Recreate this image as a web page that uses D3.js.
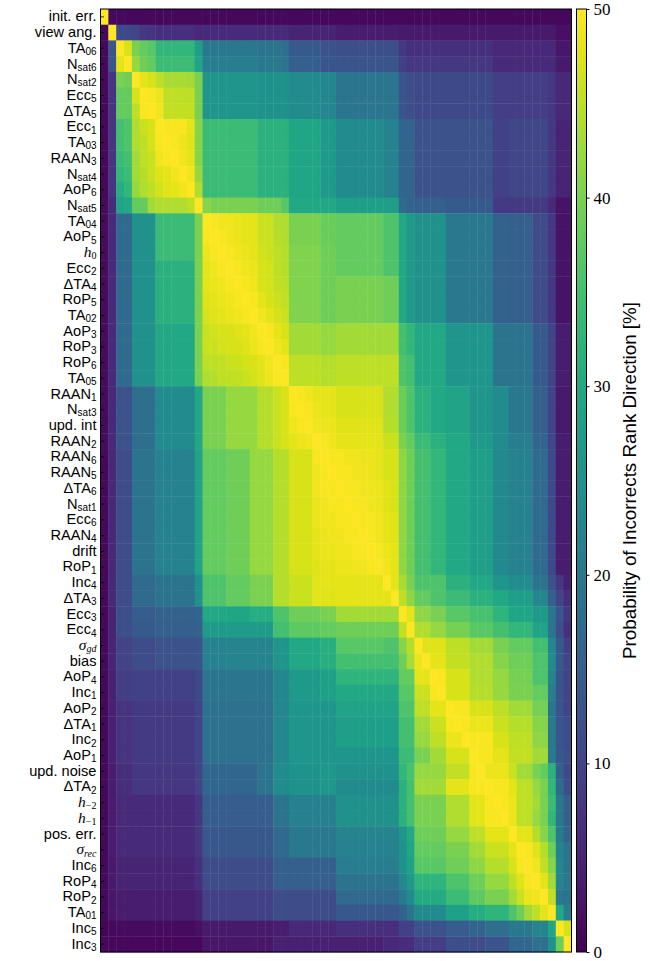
<!DOCTYPE html>
<html>
<head>
<meta charset="utf-8">
<title>Rank direction heatmap</title>
<script src="https://cdn.jsdelivr.net/npm/d3@7"></script>
<style>
body { margin: 0; background: #fff; }
</style>
</head>
<body>
<div class="chart-area"></div>
<script>
// row / column labels, top to bottom (same order on both axes)
var labelBase = ["init. err.","view ang.","TA","N","N","Ecc","ΔTA","Ecc","TA","RAAN",
  "N","AoP","N","TA","AoP","h","Ecc","ΔTA","RoP","TA",
  "AoP","RoP","RoP","TA","RAAN","N","upd. int","RAAN","RAAN","RAAN",
  "ΔTA","N","Ecc","RAAN","drift","RoP","Inc","ΔTA","Ecc","Ecc",
  "σ","bias","AoP","Inc","AoP","ΔTA","Inc","AoP","upd. noise","ΔTA",
  "h","h","pos. err.","σ","Inc","RoP","RoP","TA","Inc","Inc"];
var labelSub = ["","","06","sat6","sat2","5","5","1","03","3",
  "sat4","6","sat5","04","5","0","2","4","5","02",
  "3","3","6","05","1","sat3","","2","6","5",
  "6","sat1","6","4","","1","4","3","3","4",
  "gd","","4","1","2","1","2","1","","2",
  "−2","−1","","rec","6","4","2","01","5","3"];
var mathLabels = [15, 40, 50, 51, 53];
var cbTicks = [0, 10, 20, 30, 40, 50];

// probability of incorrect rank direction [%], one row per label
var values = [
[50,1,1,1,1,1,1,1,1,1, 1,1,1,1,1,1,1,1,1,1, 1,1,1,1,1,1,1,1,1,1, 1,1,1,1,1,1,1,1,1,1, 1,1,1,1,1,1,1,1,1,1, 1,1,1,1,1,1,1,1,1,1],
[1,50,11,11,10,8,7.5,7,7,7, 7,7,5.5,6,6,6,6,6,6,6, 6,6,6,6,5,5,5,5,5,5, 4,4,4,4,4,4,4,4,3.5,3.5, 3.5,3.5,3.5,3.5,3.5,3.5,3.5,3.5,3.5,3.5, 3.5,3.5,3.5,3.5,3.5,3.5,3.5,3.5,2,2],
[1,13,50,47,40,38,37,33,33,33, 33,33,28,20,20,20,20,20,20,20, 19,19,19,18,14,14,14,14,12.5,12.5, 12,12,12,12,12,12,12,12,8,7, 7,7,7,7,7,7,7,7,7,7, 5.5,5.5,5.5,5.5,5.5,5.5,5.5,5.5,3,3],
[1,13,48,50,42,39,38,34,34,34, 34,34,29,21,21,21,21,21,21,21, 20,20,20,19,15,15,15,15,13,13, 13,13,13,13,13,13,13,13,9,8, 8,8,8,8,8,8,8,8,8,8, 6,6,6,6,6,6,6,6,3.5,3.5],
[1,7.5,40,39,50,48,47,45,43.5,43.5, 43.5,43,40,26,26,26,26,26,26,26, 25.5,25.5,25.5,25.5,24,24,24,24,23,23, 19.5,19.5,19.5,19.5,19.5,19.5,19.5,19.5,13,12, 11,11,11,11,11,11,11,11,11,11, 9,9,9,9,9,9,9,8,5.5,5.5],
[1,7.5,38,38,47,50,49.5,48.5,45,45, 45,45,40,26,26,26,26,26,26,26, 25.5,25.5,25.5,25.5,24,24,24,24,23,23, 19.5,19.5,19.5,19.5,19.5,19.5,19.5,19.5,13,12, 11,11,11,11,11,11,11,11,11,11, 9,9,9,9,9,9,9,8,5.5,5.5],
[1,7.5,38,38,45,49.5,50,49,45.5,45.5, 45.5,45.5,40,26,26,26,26,26,26,26, 25.5,25.5,25.5,25.5,24,24,24,24,23,23, 19.5,19.5,19.5,19.5,19.5,19.5,19.5,19.5,13,12, 11,11,11,11,11,11,11,11,11,11, 9,9,9,9,9,9,9,8,5.5,5.5],
[1,7.5,35,36,44,46,47,50,49.5,49.5, 49.5,48,41,34,34,34,34,34,34,34, 32,32,32,32,29.5,29.5,29.5,29.5,27,27, 24,24,24,24,24,24,22,22,16,16, 12.5,12.5,12.5,12.5,12.5,12.5,12.5,12.5,12.5,12.5, 9.5,9.5,10.5,10.5,10.5,10.5,10.5,8,5,5],
[1,7.5,35,36,44,45,47,49.5,50,49.5, 48.5,47.5,41,34,34,34,34,34,34,34, 32,32,32,32,29.5,29.5,29.5,29.5,27,27, 24,24,24,24,24,24,22,22,16,16, 12.5,12.5,12.5,12.5,12.5,12.5,12.5,12.5,12.5,12.5, 9.5,9.5,10.5,10.5,10.5,10.5,10.5,8,5,5],
[1,7.5,34,35,43,45,46,49,49.5,50, 49,48,41,34,34,34,34,34,34,34, 32,32,32,32,29.5,29.5,29.5,29.5,27,27, 24,24,24,24,24,24,22,22,16,16, 12.5,12.5,12.5,12.5,12.5,12.5,12.5,12.5,12.5,12.5, 9.5,9.5,10.5,10.5,10.5,10.5,10.5,8,5,5],
[1,7.5,33,34,43,44.5,46,47.5,48,49, 50,49,42,34,34,34,34,34,34,34, 32,32,32,32,29.5,29.5,29.5,29.5,27,27, 24,24,24,24,24,24,22,22,16,16, 12.5,12.5,12.5,12.5,12.5,12.5,12.5,12.5,12.5,12.5, 9.5,9.5,10.5,10.5,10.5,10.5,10.5,8,5,5],
[1,7.5,31,33,42,44,45,46.5,47.5,48, 49,50,44,34,34,34,34,34,34,34, 32,32,32,32,29.5,29.5,29.5,29.5,27,27, 24,24,24,24,24,24,22,22,16,16, 12.5,12.5,12.5,12.5,12.5,12.5,12.5,12.5,12.5,12.5, 9.5,9.5,10.5,10.5,10.5,10.5,10.5,8,5,5],
[1.5,6,29,30,38,38,43,44,44,44, 44,45,50,41,40,40,40,40,40,40, 39,39,39,37,30,30,30,30,30,30, 28,28,28,28,28,28,28,28,17,16, 15,15,15,15,14,14,14,14,14,14, 8.5,8.5,8.5,8.5,8.5,8.5,8.5,6,2.5,2.5],
[1.5,6,17,17,25,25,25,34,34,34, 34,34,40,50,49.5,49,49,48.5,48,48, 46,46,44,44,40,40,40,40,38.5,38.5, 38,38,38,38,38,38,36,36,30,27, 25,25,25,25,20,20,20,20,20,20, 15.5,15.5,15,15,15,11.5,11.5,8,2.5,2.5],
[1.5,6,17,17,25,25,25,34,34,34, 34,34,40,49.5,50,49.5,49,48.5,48,48, 46,46,44.5,44,40,40,40,40,38.5,38.5, 38,38,38,38,38,38,36,36,30,27, 25,25,25,25,20,20,20,20,20,20, 15.5,15.5,15,15,15,11.5,11.5,8,2.5,2.5],
[1.5,6,17,17,25,25,25,34,34,34, 34,34,40,48.5,49.5,50,49.5,49,48.5,48, 46.5,46,45,44.5,40.5,40.5,40.5,40.5,39,39, 38,38,38,38,38,38,36,36,30,27, 25,25,25,25,20,20,20,20,20,20, 15.5,15.5,15,15,15,11.5,11.5,8,2.5,2.5],
[1.5,6,17,17,25,25,25,32,32,32, 32,32,40,48,49,49.5,50,49.5,49,48.5, 47,46.5,45,44.5,40.5,40.5,40.5,40.5,39,39, 38,38,38,38,38,38,36,36,30,27, 25,25,25,25,20,20,20,20,20,20, 15.5,15.5,15,15,15,11.5,11.5,8,2.5,2.5],
[1.5,6,17,17,25,25,25,32,32,32, 32,32,40,48,48.5,49,49.5,50,49.5,49, 47,46.5,45.5,45,40.5,40.5,40.5,40.5,39,39, 40,40,40,40,40,40,39,39,30,27, 25,25,25,25,20,20,20,20,20,20, 15.5,15.5,15,15,15,11.5,11.5,8,2.5,2.5],
[1.5,6,17,17,25,25,25,32,32,32, 32,32,40,47.5,48,48.5,49,49.5,50,49.5, 48,47,46,45.5,40.5,40.5,40.5,40.5,39,39, 40,40,40,40,40,40,39,39,30,27, 25,25,25,25,20,20,20,20,20,20, 15.5,15.5,15,15,15,11.5,11.5,8,2.5,2.5],
[1.5,6,17,17,25,25,25,32,32,32, 32,32,40,47,47.5,48,48.5,49,49.5,50, 49,48,47,46,40.5,40.5,40.5,40.5,39,39, 40,40,40,40,40,40,39,39,30,27, 25,25,25,25,20,20,20,20,20,20, 15.5,15.5,15,15,15,11.5,11.5,8,2.5,2.5],
[1.5,6,17,17,25,25,25,30,30,30, 30,30,40,46,46.5,47,47,47.5,48,49, 50,49.5,48,47,43,43,43,43,42,42, 43,43,43,43,43,43,43,43,35,33, 30,30,30,30,26,26,26,26,26,26, 19,19,19,19,19,14,14,10,4,4],
[1.5,6,17,17,25,25,25,30,30,30, 30,30,40,46,46,46.5,47,47,47.5,48.5, 49.5,50,49,48,43,43,43,43,42,42, 43,43,43,43,43,43,43,43,35,33, 30,30,30,30,26,26,26,26,26,26, 19,19,19,19,19,14,14,10,4,4],
[1.5,6,17,17,25,25,25,30,30,30, 30,30,40,45,45,45.5,46,46,46.5,47, 48,49,50,49.5,45,45,45,45,44.5,44.5, 45,45,45,45,45,45,45,45,36,35, 30,30,30,30,26,26,26,26,26,26, 19,19,19,19,19,14,14,10,4,4],
[1.5,6,17,17,25,25,25,30,30,30, 30,30,40,44,44.5,45,45,45.5,46,46.5, 47.5,48.5,49.5,50,45,45,45,45,44.5,44.5, 45,45,45,45,45,45,45,45,36,35, 30,30,30,30,26,26,26,26,26,26, 19,19,19,19,19,14,14,10,4,4],
[1.5,5.5,12.5,12.5,18,18,18,24,24,24, 24,24,30,40,40,40,42,42,42,42, 44.5,44.5,46,47,50,49.5,49,48,48,48, 47,47,47,47,47,47,44,44,38.5,36, 32,32,30,30,29,29,29,26,26,26, 24,24,20,20,20,15,15,10,3.5,3.5],
[1.5,5.5,12.5,12.5,18,18,18,24,24,24, 24,24,30,40,40,40,42,42,42,42, 44.5,44.5,46,47,49.5,50,49.5,48.5,48,48, 47,47,47,47,47,47,44,44,38.5,36, 32,32,30,30,29,29,29,26,26,26, 24,24,20,20,20,15,15,10,3.5,3.5],
[1.5,5.5,12.5,12.5,18,18,18,24,24,24, 24,24,30,40,40,40,42,42,42,42, 44.5,44.5,46,47,49,49.5,50,49,48.5,48.5, 47.5,47.5,47.5,47.5,47.5,47.5,44.5,44.5,38.5,36, 32,32,30,30,29,29,29,26,26,26, 24,24,20,20,20,15,15,10,3.5,3.5],
[1.5,5.5,12.5,12.5,18,18,18,24,24,24, 24,24,30,40,40,40,42,42,42,42, 44.5,44.5,46,47,48,48.5,49,50,49.5,49, 48,48,48,48,48,48,46,46,40,38, 34,34,32,32,30,30,30,27,27,27, 24,24,21,21,21,16,16,10.5,4,4],
[1,5.5,11.5,11.5,19,19,19,22,22,22, 22,22,29,38,38,38,39,39,39,42, 42,42,44.5,44.5,47,47,47,49.5,50,49.5, 49.5,49,49,48.5,48.5,48,47,47,41.5,39, 35,35,33,33,30,30,30,28,28,28, 23.5,23.5,22,22,22,17,17,11,4,4],
[1,5.5,11.5,11.5,19,19,19,22,22,22, 22,22,29,38,38,38,39,39,39,42, 42,42,44.5,44.5,47,47,47,49,49.5,50, 49.5,49.5,49,49,48.5,48,47,47,41.5,39, 35,35,33,33,30,30,30,28,28,28, 23.5,23.5,22,22,22,17,17,11,4,4],
[1,5.5,11.5,11.5,19,19,19,22,22,22, 22,22,29,38,38,38,39,39,39,42, 42,42,44.5,44.5,47,47,47,49,49.5,49.5, 50,49.5,49.5,49,49,48.5,47.5,47,41.5,39, 35,35,33,33,30,30,30,28,28,28, 23.5,23.5,22,22,22,17,17,11,4,4],
[1,5.5,11.5,11.5,19,19,19,22,22,22, 22,22,29,38,38,38,39,39,39,42, 42,42,44.5,44.5,47,47,47,48.5,49,49.5, 49.5,50,49.5,49.5,49,48.5,47.5,47,41.5,39, 35,35,33,33,30,30,30,28,28,28, 23.5,23.5,22,22,22,17,17,11,4,4],
[1,5.5,11.5,11.5,19,19,19,22,22,22, 22,22,29,38,38,38,39,39,39,42, 42,42,44.5,44.5,47,47,47,48.5,49,49, 49.5,49.5,50,49.5,49.5,49,48,47.5,41.5,39, 35,35,33,33,30,30,30,28,28,28, 23.5,23.5,22,22,22,17,17,11,4,4],
[1,5.5,11.5,11.5,19,19,19,22,22,22, 22,22,29,38,38,38,39,39,39,42, 42,42,44.5,44.5,47,47,47,48,48.5,49, 49,49.5,49.5,50,49.5,49,48,47.5,41.5,39, 35,35,33,33,30,30,30,28,28,28, 23.5,23.5,22,22,22,17,17,11,4,4],
[1,5.5,11.5,11.5,19,19,19,22,22,22, 22,22,29,38,38,38,39,39,39,42, 42,42,44.5,44.5,47,47,47,48,48.5,48.5, 49,49,49.5,49.5,50,49.5,48.5,48,41.5,39, 35,35,33,33,30,30,30,28,28,28, 23.5,23.5,22,22,22,17,17,11,4,4],
[1,5.5,11.5,11.5,19,19,19,22,22,22, 22,22,29,38,38,38,39,39,39,42, 42,42,44.5,44.5,47,47,47,47.5,48,48, 48.5,48.5,49,49,49.5,50,49,48,41.5,39, 35,35,33,33,30,30,30,28,28,28, 23.5,23.5,22,22,22,17,17,11,4,4],
[1,5.5,11.5,11.5,17,17,17,19,19,19, 19,19,25,36,36,36,38,38,38,40, 40,40,44.5,44.5,46,46,46,48,48,48, 48,48,48,48,48,48,50,48,43.5,40, 36,36,36,36,32,32,32,30,30,30, 26,26,24.5,24.5,24.5,19,19,12.5,8,4.5],
[1,5.5,11.5,11.5,17,17,17,19,19,19, 19,19,25,36,36,36,38,38,38,40, 40,40,44.5,44.5,46,46,46,48,47.5,47.5, 48,48,48,48,48,48,48,50,45,41.5, 38,38,36,36,34,34,34,32,32,32, 30,30,28,28,28,23,23,15,10,6.5],
[1,5,12,12,14.5,14.5,14.5,15.5,15.5,15.5, 15.5,15.5,16,30,30,30,29.5,29.5,29.5,31, 31,31,36,36,39,39,39,39,40,40, 43,43,43,43,43,43,43,43,50,48, 41.5,41.5,40,40,37,37,37,35.5,35.5,35.5, 32.5,32.5,29.5,29.5,29.5,27,27,19.5,13,8],
[1,5,12,12,14,14,14,15,15,15, 15,15,15.5,27.5,27.5,27.5,27.5,27.5,27.5,27.5, 27.5,27.5,35,35,37.5,37.5,37.5,37.5,38,38, 39,39,39,39,39,39,39,39,45.5,50, 44,44,42,42,39.5,39.5,39.5,37,37,37, 35,35,33,33,33,29,29,19.5,12,7],
[1,5,10,10,11.5,11.5,11.5,12.5,12.5,12.5, 12.5,12.5,13,22,22,22,22.5,22.5,22.5,22.5, 22.5,22.5,26,26,30,30,30,30,31.5,31.5, 37,37,37,37,37,37,36,36,41,44.5, 50,47.5,47.5,47.5,45,45,45,43,43,43, 40,40,38,38,38,35,35,23,14,9],
[1,5,10,10,11.5,11.5,11.5,12.5,12.5,12.5, 12.5,12.5,13,22,22,22,22.5,22.5,22.5,22.5, 22.5,22.5,26,26,30,30,30,30,31.5,31.5, 35,35,35,35,35,35,35,35,39,43.5, 48.5,50,48,48,45.5,45.5,45.5,44,44,44, 41,41,39,39,39,36,36,24,14,10],
[1,4.5,9,9,9.5,9.5,9.5,9.5,9.5,9.5, 9.5,9.5,11,19.5,19.5,19.5,19.5,19.5,19.5,19.5, 19.5,19.5,23,23,27,27,27,27,28.5,28.5, 32.5,32.5,32.5,32.5,32.5,32.5,32.5,32.5,38,38, 48,48,50,49.5,47,47,47,44,44,44, 42,42,39.5,39.5,39.5,36,36,22.5,13,10],
[1,4.5,9,9,9.5,9.5,9.5,9.5,9.5,9.5, 9.5,9.5,11,19.5,19.5,19.5,19.5,19.5,19.5,19.5, 19.5,19.5,23,23,27,27,27,27,28.5,28.5, 30,30,30,30,30,30,30,30,37,37, 46,46,49.5,50,47,47,47,44.5,44.5,44.5, 42,42,40,40,40,38,38,21,12.5,10],
[1,4.5,7.5,7.5,8.5,8.5,8.5,8.5,8.5,8.5, 8.5,8.5,10,18.5,18.5,18.5,18.5,18.5,18.5,18.5, 18.5,18.5,23,23,26,26,26,26,26,26, 29,29,29,29,29,29,29,29,36,36, 45,45,48,48,50,49.5,49.5,47,47,47, 45,45,43,43,43,39.5,39.5,19.5,13,10],
[1,4.5,7.5,7.5,8.5,8.5,8.5,8.5,8.5,8.5, 8.5,8.5,10,18.5,18.5,18.5,18.5,18.5,18.5,18.5, 18.5,18.5,23,23,26,26,26,26,26,26, 28,28,28,28,28,28,28,28,35,35, 43,43,46,46,49.5,50,49.5,48.5,48.5,48.5, 46,46,44.5,44.5,44.5,41,41,20.5,13,11.5],
[1,4.5,7.5,7.5,8.5,8.5,8.5,8.5,8.5,8.5, 8.5,8.5,10,18.5,18.5,18.5,18.5,18.5,18.5,18.5, 18.5,18.5,23,23,26,26,26,26,26,26, 28,28,28,28,28,28,28,28,35,35, 42,42,45,45,48.5,48.5,50,49.5,49.5,49.5, 47,47,45,45,45,41.5,41.5,20,13,11.5],
[1,4.5,7.5,7.5,8.5,8.5,8.5,8.5,8.5,8.5, 8.5,8.5,10,18.5,18.5,18.5,18.5,18.5,18.5,18.5, 18.5,18.5,23,23,26,26,26,26,26,26, 26,26,26,26,26,26,26,26,34,34, 40,40,43,43,47,47,47,50,49.5,49.5, 48,48,45.5,45.5,45.5,43,43,20.5,13.5,12],
[1,4,6.5,6.5,8,8,8,8,8,8, 8,8,10,16.5,16.5,16.5,16.5,16.5,16.5,16.5, 19,19,24,24,25.5,25.5,25.5,25.5,26.5,26.5, 25.5,25.5,25.5,25.5,25.5,25.5,25.5,25.5,33,35.5, 42,42,42,42,45.5,45.5,45.5,49.5,50,48.5, 48.5,48.5,46,43,43,40,38,32,15,11],
[1,4,6.5,6.5,8,8,8,8,8,8, 8,8,10,16.5,16.5,16.5,16.5,16.5,16.5,16.5, 19,19,24,24,25.5,25.5,25.5,25.5,26.5,26.5, 24,24,24,24,24,24,24,24,32,35, 43,43,43,43,48,48,48,49.5,49.5,50, 49.5,49.5,48,45,45,42,40,33,17,12],
[1,4,6,6,6,6,6,6,6,6, 6,6,8,14.5,14.5,14.5,14.5,14.5,14.5,14.5, 14.5,14.5,19,19,21.5,21.5,21.5,21.5,21.5,21.5, 25,25,25,25,25,25,25,25,32,35, 40,40,40,40,44,44,44,48,48,49.5, 50,49.5,48.5,45,45,43,40,34,20,15],
[1,4,6,6,6,6,6,6,6,6, 6,6,8,14.5,14.5,14.5,14.5,14.5,14.5,14.5, 14.5,14.5,19,19,21.5,21.5,21.5,21.5,21.5,21.5, 25,25,25,25,25,25,25,25,32,35, 40,40,40,40,44,44,44,48,48,49.5, 49.5,50,48.5,45,45,42,40,33,20,15],
[1,4,6,6,6,6,6,6,6,6, 6,6,8,13.5,13.5,13.5,13.5,13.5,13.5,13.5, 13.5,13.5,17,17,20,20,20,20,20,20, 22.5,22.5,22.5,22.5,22.5,22.5,22.5,22.5,26,30, 39,39,39,39,42,42,42,45,45,48, 48,48,50,48,48,44.5,41,36,20.5,16],
[1,4,6,6,6,6,6,6,6,6, 6,6,8,13.5,13.5,13.5,13.5,13.5,13.5,13.5, 13.5,13.5,17,17,20,20,20,20,20,20, 22,22,22,22,22,22,22,22,25.5,29.5, 38,38,38,38,40,40,40,43,43,46, 46,46,48,50,49.5,47.5,44.5,39,22,19],
[1,3.5,5,5,5,5,5,5,5,5, 5,5,7,11.5,11.5,11.5,11.5,11.5,11.5,11.5, 11.5,11.5,15,15,15,15,15,15,15,15, 21,21,21,21,21,21,21,21,25.5,28.5, 37,37,37,37,39,39,39,41.5,41.5,44.5, 44.5,44.5,47,49.5,50,49,45.5,41,23,19.5],
[1,3.5,5,5,5,5,5,5,5,5, 5,5,7,11.5,11.5,11.5,11.5,11.5,11.5,11.5, 11.5,11.5,15,15,15,15,15,15,15,15, 19,19,19,19,19,19,19,19,23.5,27, 32.5,32.5,32.5,32.5,36,36,36,39,39,42, 42,42,45,47.5,49.5,50,48,43,22.5,20],
[1,3,4,4,4,4,4,4,4,4, 4,4,5,9.5,9.5,9.5,9.5,9.5,9.5,9.5, 9.5,9.5,11.5,11.5,11.5,11.5,11.5,11.5,11.5,11.5, 17,17,17,17,17,17,17,17,20.5,24, 30.5,30.5,30.5,30.5,34,34,34,37.5,37.5,40, 40,40,43,46,48.5,49,50,45.5,20,19],
[1,3,4,4,4,4,4,4,4,4, 4,4,5,9.5,9.5,9.5,9.5,9.5,9.5,9.5, 9.5,9.5,11.5,11.5,11.5,11.5,11.5,11.5,11.5,11.5, 13.5,13.5,13.5,13.5,13.5,13.5,13.5,13.5,15.5,19, 24,24,24,24,28.5,28.5,28.5,31,31,32.5, 32.5,32.5,36,39,43,45,48,50,30,21],
[0.5,1,1.5,1.5,1.5,1.5,1.5,1.5,1.5,1.5, 1.5,1.5,2,3.5,3.5,3.5,3.5,3.5,3.5,3.5, 3.5,3.5,4,4,5.5,5.5,5.5,5.5,5.5,5.5, 7,7,7,7,7,7,7,7,9.5,9.5, 12.5,12.5,12.5,12.5,14.5,14.5,14.5,16,16,18, 18,18,20,20,20,22.5,22.5,29.5,50,47],
[1,1,1,1,1,1,1,1,1,1, 1,1,1,3,3,3,3,3,3,3, 3,3,4.5,4.5,4.5,4.5,4.5,4.5,4.5,4.5, 4.5,4.5,4.5,4.5,4.5,4.5,5.5,5.5,6.5,6.5, 9,9,9,9,12,12,12,11.5,11.5,13, 13,13,16.5,16.5,16.5,18.5,18.5,25.5,39,50]
];

var margin = { left: 100.5, top: 9 },
    width = 471,
    height = 943;

var svg = d3.select(".chart-area")
    .append("svg")
    .attr("width", 650)
    .attr("height", 961);

var idx = d3.range(labelBase.length);

var xScale = d3.scaleBand()
    .domain(idx)
    .range([margin.left, margin.left + width]);
var yScale = d3.scaleBand()
    .domain(idx)
    .range([margin.top, margin.top + height]);
var color = d3.scaleSequential(d3.interpolateViridis)
    .domain([0, 50]);

// heatmap cells
var cells = [];
values.forEach(function(row, i) {
    row.forEach(function(v, j) {
        cells.push({ r: i, c: j, v: v });
    });
});

svg.append("g")
    .selectAll("rect")
    .data(cells)
    .enter()
    .append("rect")
    .attr("x", function(d) { return xScale(d.c); })
    .attr("y", function(d) { return yScale(d.r); })
    .attr("width", xScale.bandwidth() + 0.4)
    .attr("height", yScale.bandwidth() + 0.4)
    .attr("fill", function(d) { return color(d.v); });

// frame
svg.append("rect")
    .attr("x", margin.left)
    .attr("y", margin.top)
    .attr("width", width)
    .attr("height", height)
    .attr("fill", "none")
    .attr("stroke", "#000")
    .attr("stroke-width", 1);

// inward y ticks
svg.append("g")
    .selectAll("line")
    .data(idx)
    .enter()
    .append("line")
    .attr("x1", margin.left)
    .attr("x2", margin.left + 3.5)
    .attr("y1", function(d) { return yScale(d) + yScale.bandwidth() / 2; })
    .attr("y2", function(d) { return yScale(d) + yScale.bandwidth() / 2; })
    .attr("stroke", "#000")
    .attr("stroke-width", 0.8);

// y labels
var lab = svg.append("g")
    .selectAll("text")
    .data(idx)
    .enter()
    .append("text")
    .attr("x", margin.left - 4)
    .attr("y", function(d) { return yScale(d) + yScale.bandwidth() / 2 + 4.5; })
    .attr("text-anchor", "end")
    .style("font-family", "'Liberation Sans', Arial, sans-serif")
    .style("font-size", "14.6px")
    .attr("fill", "#000");

lab.each(function(d) {
    var t = d3.select(this);
    var isMath = mathLabels.indexOf(d) >= 0;
    var base = t.append("tspan").text(labelBase[d]);
    if (isMath) {
        base.style("font-family", "'Liberation Serif', serif")
            .style("font-style", "italic")
            .style("font-size", "15.5px");
    }
    if (labelSub[d] !== "") {
        var sub = t.append("tspan")
            .attr("dy", 2.2)
            .style("font-size", "10px")
            .text(labelSub[d]);
        if (isMath) {
            sub.style("font-family", "'Liberation Serif', serif");
            if (/[a-z]/.test(labelSub[d])) sub.style("font-style", "italic");
        }
    }
});

// colorbar
var cbX = 576.5, cbW = 10;
var cbScale = d3.scaleLinear()
    .domain([0, 50])
    .range([margin.top + height, margin.top]);

var defs = svg.append("defs");
var grad = defs.append("linearGradient")
    .attr("id", "cbgrad")
    .attr("x1", 0).attr("y1", 1)
    .attr("x2", 0).attr("y2", 0);
grad.selectAll("stop")
    .data(d3.range(0, 1.0001, 0.05))
    .enter()
    .append("stop")
    .attr("offset", function(d) { return d; })
    .attr("stop-color", function(d) { return d3.interpolateViridis(d); });

svg.append("rect")
    .attr("x", cbX)
    .attr("y", margin.top)
    .attr("width", cbW)
    .attr("height", height)
    .attr("fill", "url(#cbgrad)")
    .attr("stroke", "#000")
    .attr("stroke-width", 1);

var cbAxis = d3.axisRight(cbScale)
    .tickValues(cbTicks)
    .tickSize(3)
    .tickPadding(4);

var cbG = svg.append("g")
    .attr("transform", "translate(" + (cbX + cbW) + ",0)")
    .call(cbAxis);
cbG.select(".domain").remove();
cbG.selectAll("text")
    .style("font-family", "'Liberation Serif', serif")
    .style("font-size", "17px")
    .attr("fill", "#000");

svg.append("text")
    .attr("transform", "translate(636," + (margin.top + height / 2) + ") rotate(-90)")
    .attr("text-anchor", "middle")
    .style("font-family", "'Liberation Sans', Arial, sans-serif")
    .style("font-size", "18.8px")
    .text("Probability of Incorrects Rank Direction [%]");
</script>
</body>
</html>
